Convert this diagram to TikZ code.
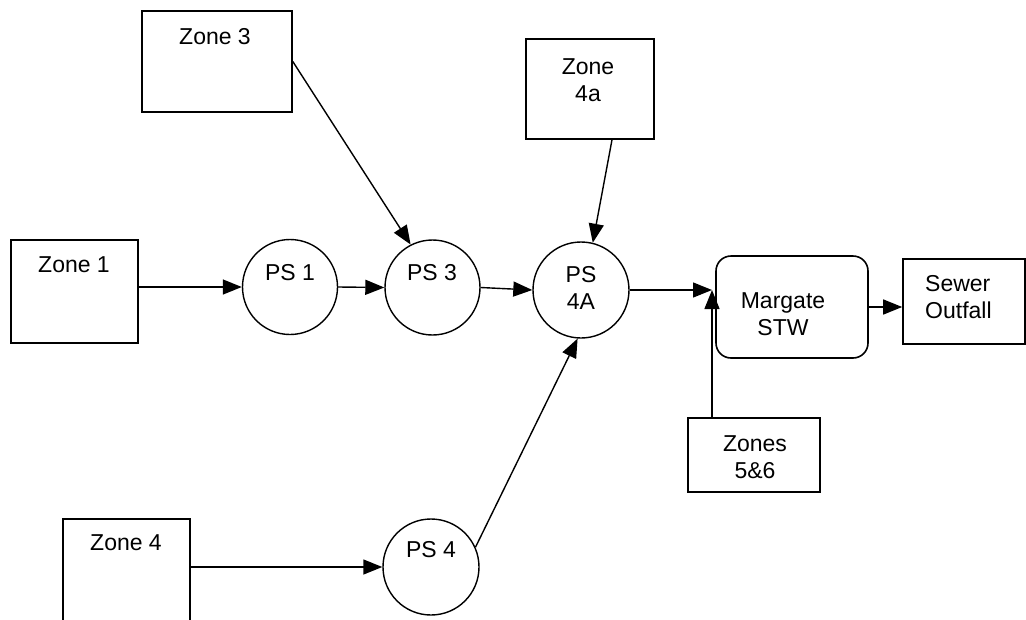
\documentclass[tikz,border=0pt]{standalone}
\usepackage{fontspec}
\setmainfont{Liberation Sans}
\usetikzlibrary{arrows.meta}
\begin{document}
\begin{tikzpicture}[x=1pt,y=-1pt,
  box/.style={draw, line width=1.6pt, inner sep=0pt},
  pump/.style={draw, circle, line width=1.4pt, minimum size=95pt, inner sep=0pt},
  txt/.style={font=\fontsize{23}{27}\selectfont, align=center, inner sep=0pt},
  flow/.style={line width=1.4pt, -{Triangle[length=19pt,width=15pt]}}]
\clip (0,0) rectangle (1026,619);

% catchment zones
\node[box, minimum width=127pt, minimum height=103pt] (z1) at (74.5,291.5) {};
\node[box, minimum width=150pt, minimum height=101pt] (z3) at (217,61.5) {};
\node[box, minimum width=128pt, minimum height=100pt] (z4a) at (590,89) {};
\node[box, minimum width=127pt, minimum height=103pt] (z4) at (126.5,570.5) {};
\node[box, minimum width=132pt, minimum height=74pt] (z56) at (754,455) {};

% treatment works and outfall
\node[box, rounded corners=15pt, minimum width=152pt, minimum height=102pt] (ms) at (792,307) {};
\node[box, minimum width=122pt, minimum height=85pt] (so) at (964,301.5) {};

% pumping stations
\node[pump] (p1) at (290,287) {};
\node[pump] (p3) at (432.5,287.5) {};
\node[pump, minimum size=96pt] (p4a) at (581,290) {};
\node[pump, minimum size=96pt] (p4) at (431,567) {};

% labels
\node[txt] (z1t) at (74,265) {Zone 1};
\node[txt] (z3t) at (215,37) {Zone 3};
\node[txt] (z4at) at (588,80) {Zone\\4a};
\node[txt] (z4t) at (126,543) {Zone 4};
\node[txt] (z56t) at (755,457) {Zones\\5\&6};
\node[txt] (mst) at (783,314) {Margate\\STW};
\node[txt, align=left, anchor=west] (sot) at (925,297) {Sewer\\Outfall};
\node[txt] (p1t) at (290,273) {PS 1};
\node[txt] (p3t) at (432,273) {PS 3};
\node[txt] (p4at) at (581,288) {PS\\4A};
\node[txt] (p4t) at (431,550) {PS 4};

% flows
\coordinate (join) at (712,290);
\draw[flow] (p1.west -| z1.east) -- (p1.west);
\draw[flow] (p1.east) -- (p3.west);
\draw[flow] (p3.east) -- (p4a.west);
\draw[flow] (z3.east) -- (p3.117);
\draw[flow] ([xshift=22pt]z4a.south) -- (p4a.76);
\draw[flow] (z4.east |- p4.west) -- (p4.west);
\draw[flow] (p4.24) -- (p4a.266);
\draw[flow] (p4a.east) -- (join);
\draw[flow] (join |- z56.north) -- (join);
\draw[flow] (ms.east) -- (ms.east -| so.west);
\end{tikzpicture}
\end{document}
